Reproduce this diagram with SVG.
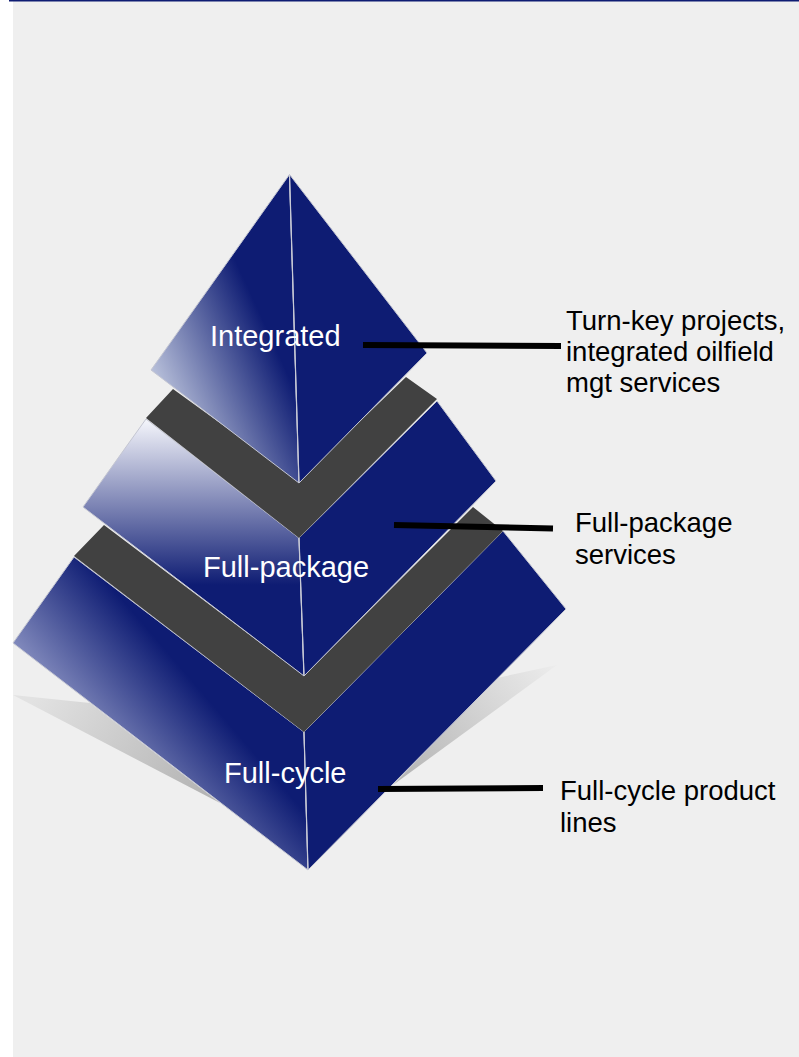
<svg xmlns="http://www.w3.org/2000/svg" width="799" height="1057" viewBox="0 0 799 1057">
<style>
.face{fill:#0e1c73;stroke:#c4c6d2;stroke-width:1;stroke-linejoin:round}
.band{fill:#414141}
.ridge{stroke:#c8cad6;stroke-width:1.2;fill:none}
.lbl{font-family:"Liberation Sans",Arial,sans-serif;font-size:27.5px;fill:#000}
.tier{font-family:"Liberation Sans",Arial,sans-serif;font-size:29px;fill:#fff}
.conn{stroke:#000;stroke-width:6;fill:none}
</style>
<defs>
<linearGradient id="gTop" gradientUnits="userSpaceOnUse" x1="151" y1="369" x2="262" y2="318">
<stop offset="0" stop-color="#b8c0da"/><stop offset="1" stop-color="#0e1c73"/>
</linearGradient>
<linearGradient id="gMid" gradientUnits="userSpaceOnUse" x1="0" y1="420" x2="0" y2="585">
<stop offset="0" stop-color="#f4f5fb"/><stop offset="1" stop-color="#0e1c73"/>
</linearGradient>
<linearGradient id="gBot" gradientUnits="userSpaceOnUse" x1="109" y1="768" x2="200" y2="690">
<stop offset="0" stop-color="#8a92c2"/><stop offset="1" stop-color="#0e1c73"/>
</linearGradient>
<linearGradient id="gShL" gradientUnits="userSpaceOnUse" x1="40" y1="690" x2="200" y2="800">
<stop offset="0" stop-color="#e2e2e2"/><stop offset="1" stop-color="#b4b4b4"/>
</linearGradient>
<linearGradient id="gShR" gradientUnits="userSpaceOnUse" x1="550" y1="660" x2="400" y2="780">
<stop offset="0" stop-color="#ececec"/><stop offset="1" stop-color="#b4b4b4"/>
</linearGradient>
</defs>
<rect x="0" y="0" width="799" height="1057" fill="#ffffff"/>
<rect x="13" y="1" width="786" height="1056" fill="#efefef"/>
<line x1="9" y1="0.75" x2="799" y2="0.75" stroke="#0e1c73" stroke-width="1.5"/>

<g id="shadows">
<polygon points="13,695 90,703 220,803" fill="url(#gShL)"/>
<polygon points="557,665 497,678 393,785" fill="url(#gShR)"/>
</g>

<g id="tier-fullcycle">
<polygon class="face" points="74,557 13,643 308,870 304,732" style="fill:url(#gBot)"/>
<polygon class="face" points="304,732 503,531 566,609 308,870"/>
<line class="ridge" x1="304" y1="732" x2="308" y2="870"/>
<text class="tier" x="224" y="783">Full-cycle</text>
</g>

<g id="band-2">
<polygon class="band" points="104,525 304,676 473,507 503,531 304,732 74,556"/>
</g>

<g id="tier-fullpackage">
<polygon class="face" points="146,419 83,507 304,676 299,538" style="fill:url(#gMid)"/>
<polygon class="face" points="299,538 437,401 496,481 304,676"/>
<line class="ridge" x1="299" y1="538" x2="304" y2="676"/>
<text class="tier" x="203" y="577">Full-package</text>
</g>

<g id="band-1">
<polygon class="band" points="173,389 299,480 406,377 437,399 299,538 146,418"/>
</g>

<g id="tier-integrated">
<polygon class="face" points="289.5,174.5 151,370 299,483" style="fill:url(#gTop)"/>
<polygon class="face" points="289.5,174.5 299,483 427,353"/>
<line class="ridge" x1="289.5" y1="174.5" x2="299" y2="483"/>
<text class="tier" x="210" y="346">Integrated</text>
</g>

<g id="connectors">
<line class="conn" x1="363" y1="345" x2="561" y2="346"/>
<line class="conn" x1="394" y1="525" x2="553" y2="528.5"/>
<line class="conn" x1="378" y1="789" x2="543" y2="788"/>
</g>

<g id="label-integrated">
<text class="lbl" x="566" y="330">Turn-key projects,</text>
<text class="lbl" x="566" y="361">integrated oilfield</text>
<text class="lbl" x="566" y="392">mgt services</text>
</g>
<g id="label-fullpackage">
<text class="lbl" x="575" y="532">Full-package</text>
<text class="lbl" x="575" y="564">services</text>
</g>
<g id="label-fullcycle">
<text class="lbl" x="560" y="800">Full-cycle product</text>
<text class="lbl" x="560" y="832">lines</text>
</g>
</svg>
